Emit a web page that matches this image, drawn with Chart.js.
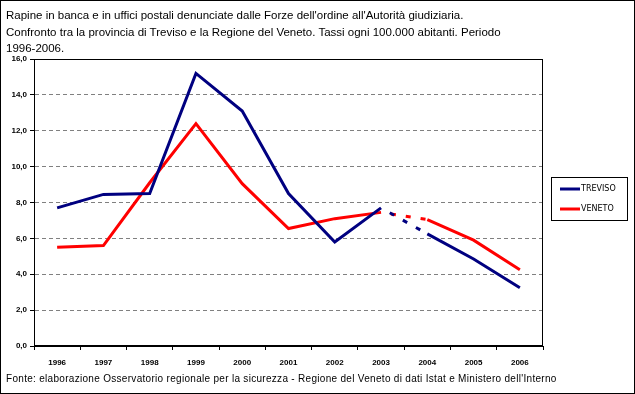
<!DOCTYPE html>
<html><head><meta charset="utf-8">
<script src="https://cdn.jsdelivr.net/npm/chart.js@4/dist/chart.umd.min.js"></script>
<style>
html,body{margin:0;padding:0;background:#fff;}
#wrap{position:relative;width:635px;height:394px;overflow:hidden;background:#fff;}
#frame{position:absolute;left:0;top:0;width:635px;height:394px;box-sizing:border-box;border:1px solid #000;pointer-events:none;}
#title{position:absolute;left:6px;top:7px;font-family:"Liberation Sans";font-size:11.5px;letter-spacing:0px;line-height:16.7px;color:#000;white-space:nowrap;}
#foot{position:absolute;left:6px;top:373px;font-family:"Liberation Sans";font-size:10px;letter-spacing:0.3px;line-height:12px;color:#000;white-space:nowrap;}
canvas{position:absolute;left:0;top:0;}
</style></head>
<body>
<div id="wrap">
<canvas id="c" width="635" height="394"></canvas>
<div id="title">Rapine in banca e in uffici postali denunciate dalle Forze dell'ordine all'Autorità giudiziaria.<br>Confronto tra la provincia di Treviso e la Regione del Veneto. Tassi ogni 100.000 abitanti. Periodo<br>1996-2006.</div>
<div id="foot">Fonte: elaborazione Osservatorio regionale per la sicurezza - Regione del Veneto di dati Istat e Ministero dell'Interno</div>
<div id="frame"></div>
</div>
<script>
const years = ['1996','1997','1998','1999','2000','2001','2002','2003','2004','2005','2006'];
const treviso = [7.7, 8.45, 8.5, 15.2, 13.1, 8.5, 5.8, 7.7, 6.25, 4.85, 3.25];
const veneto = [5.5, 5.6, 9.1, 12.4, 9.05, 6.55, 7.1, 7.45, 7.05, 5.9, 4.25];
const seriesNames = ['TREVISO', 'VENETO'];
const yTicks = [0, 2, 4, 6, 8, 10, 12, 14, 16];

const dashedFrom = 7; // segment 2003-2004 drawn dashed

const plotBorder = {
  id: 'plotBorder',
  afterDatasetsDraw(chart) {
    const a = chart.chartArea, ctx = chart.ctx;
    ctx.save();
    ctx.setLineDash([]);
    ctx.strokeStyle = '#000'; ctx.lineWidth = 1;
    ctx.strokeRect(Math.round(a.left) + 0.5, Math.round(a.top) + 0.5, Math.round(a.right - a.left) - 1, Math.round(a.bottom - a.top) - 1);
    ctx.restore();
  }
};
const legendBox = {
  id: 'legendBox',
  afterDraw(chart) {
    const ctx = chart.ctx;
    ctx.save();
    ctx.setLineDash([]);
    ctx.strokeStyle = '#000'; ctx.lineWidth = 1;
    ctx.strokeRect(551.5, 177.5, 76, 43);
    chart.data.datasets.forEach((ds, i) => {
      const y = 189 + i * 20;
      ctx.strokeStyle = ds.borderColor; ctx.lineWidth = 3;
      ctx.beginPath(); ctx.moveTo(560, y); ctx.lineTo(580, y); ctx.stroke();
      ctx.fillStyle = '#000'; ctx.font = '8px "DejaVu Sans"'; ctx.textBaseline = 'middle';
      ctx.fillText(ds.label, 581, y);
    });
    ctx.restore();
  }
};

const seg = {
  borderDash: c => c.p0DataIndex === dashedFrom ? [5, 10] : undefined,
  borderDashOffset: c => c.p0DataIndex === dashedFrom ? 5 : undefined
};
const tickFont = {family: 'Liberation Sans', size: 8, weight: 'bold'};

new Chart(document.getElementById('c'), {
  type: 'line',
  data: {
    labels: years,
    datasets: [
      {label: seriesNames[0], data: treviso, borderColor: '#000080', backgroundColor: '#000080', borderWidth: 3, pointRadius: 0, tension: 0, fill: false, segment: seg, borderJoinStyle: 'miter'},
      {label: seriesNames[1], data: veneto, borderColor: '#FF0000', backgroundColor: '#FF0000', borderWidth: 3, pointRadius: 0, tension: 0, fill: false, segment: seg, borderJoinStyle: 'miter'}
    ]
  },
  options: {
    responsive: false, animation: false, devicePixelRatio: 1,
    layout: {padding: {left: 0, top: 59, right: 92, bottom: 0}},
    plugins: {legend: {display: false}, tooltip: {enabled: false}, title: {display: false}},
    scales: {
      x: {
        type: 'category', offset: true,
        grid: {display: true, drawOnChartArea: false, drawTicks: true, tickLength: 4, color: '#000', tickColor: '#000', offset: true},
        border: {display: true, color: '#000', width: 1},
        ticks: {font: tickFont, color: '#000', maxRotation: 0, minRotation: 0, padding: 8, autoSkip: false},
        afterFit(s) { s.height = 48; }
      },
      y: {
        min: yTicks[0], max: yTicks[yTicks.length - 1],
        afterBuildTicks(s) { s.ticks = yTicks.map(v => ({value: v})); },
        grid: {
          color: c => (c.tick && (c.tick.value === yTicks[0] || c.tick.value === yTicks[yTicks.length - 1])) ? 'rgba(0,0,0,0)' : '#808080',
          tickColor: '#000', tickLength: 4, tickBorderDash: [1, 0], drawTicks: true
        },
        border: {display: true, color: '#000', width: 1, dash: [4, 3]},
        ticks: {font: tickFont, color: '#000', padding: 3, callback: v => Number(v).toFixed(1).replace('.', ',')},
        afterFit(s) { s.width = 34; }
      }
    }
  },
  plugins: [plotBorder, legendBox]
});
</script>
</body></html>
